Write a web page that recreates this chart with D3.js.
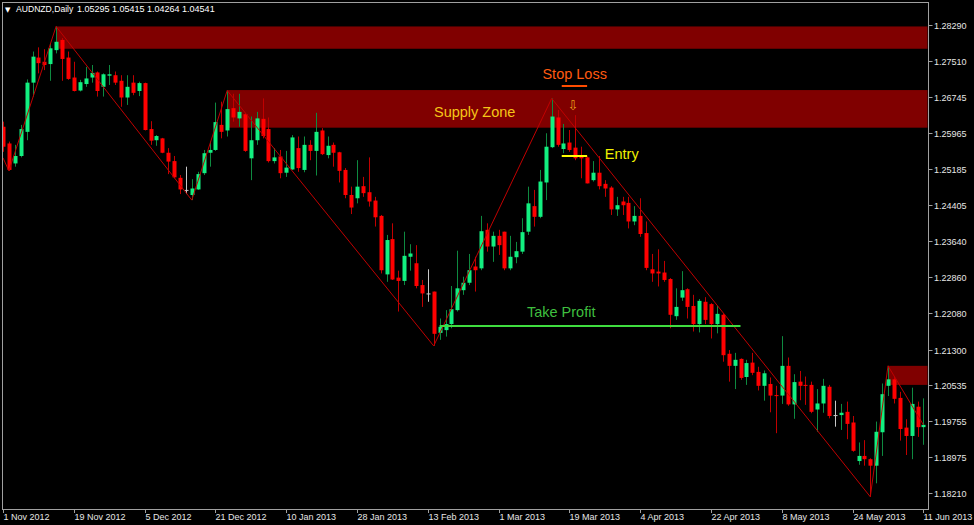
<!DOCTYPE html>
<html><head><meta charset="utf-8">
<script src="https://cdn.jsdelivr.net/npm/d3@7/dist/d3.min.js"></script>
<style>html,body{margin:0;padding:0;background:#000;}svg{display:block;}</style>
</head><body><svg id="c" width="974" height="525"></svg>
<script>
const symbolTitle = "AUDNZD,Daily";
const headerValues = "1.05295 1.05415 1.04264 1.04541";
const open = [1.2612,1.2576,1.2533,1.2549,1.2601,1.2707,1.2761,1.2752,1.2747,1.2777,1.2799,1.2761,1.2718,1.2690,1.2704,1.2718,1.2729,1.2698,1.2722,1.2723,1.2711,1.2675,1.2707,1.2689,1.2706,1.2607,1.2583,1.2587,1.2556,1.2538,1.2502,1.2476,1.2465,1.2477,1.2512,1.2556,1.2562,1.2616,1.2604,1.2652,1.2630,1.2639,1.2544,1.2583,1.2629,1.2607,1.2538,1.2548,1.2513,1.2520,1.2566,1.2519,1.2573,1.2560,1.2604,1.2551,1.2573,1.2557,1.2519,1.2465,1.2458,1.2484,1.2471,1.2453,1.2420,1.2294,1.2370,1.2287,1.2280,1.2332,1.2318,1.2271,1.2253,1.2257,1.2168,1.2174,1.2187,1.2217,1.2260,1.2276,1.2311,1.2307,1.2390,1.2354,1.2377,1.2386,1.2307,1.2331,1.2343,1.2386,1.2441,1.2418,1.2492,1.2568,1.2632,1.2564,1.2578,1.2567,1.2548,1.2546,1.2497,1.2513,1.2489,1.2481,1.2434,1.2451,1.2448,1.2408,1.2420,1.2383,1.2305,1.2300,1.2298,1.2284,1.2204,1.2244,1.2262,1.2226,1.2187,1.2235,1.2230,1.2187,1.2207,1.2123,1.2097,1.2112,1.2073,1.2104,1.2084,1.2054,1.2058,1.2034,1.2033,1.2097,1.2014,1.2063,1.2056,1.2056,1.2003,1.2016,1.2052,1.1991,1.1991,1.1998,1.1975,1.1892,1.1903,1.1896,1.1882,1.1954,1.2054,1.2068,1.2028,1.1964,1.1946,1.2009,1.1965];
const high = [1.2623,1.2580,1.2573,1.2616,1.2714,1.2774,1.2783,1.2779,1.2792,1.2828,1.2803,1.2774,1.2752,1.2713,1.2741,1.2745,1.2731,1.2727,1.2745,1.2731,1.2723,1.2723,1.2723,1.2709,1.2707,1.2624,1.2594,1.2588,1.2566,1.2549,1.2508,1.2526,1.2499,1.2515,1.2562,1.2580,1.2664,1.2666,1.2690,1.2683,1.2683,1.2641,1.2634,1.2644,1.2673,1.2632,1.2566,1.2562,1.2560,1.2594,1.2591,1.2591,1.2583,1.2642,1.2609,1.2591,1.2578,1.2558,1.2523,1.2483,1.2540,1.2504,1.2546,1.2461,1.2422,1.2379,1.2404,1.2302,1.2386,1.2359,1.2357,1.2282,1.2305,1.2257,1.2199,1.2217,1.2269,1.2345,1.2289,1.2338,1.2332,1.2420,1.2404,1.2386,1.2390,1.2386,1.2377,1.2364,1.2415,1.2483,1.2476,1.2519,1.2598,1.2673,1.2648,1.2618,1.2605,1.2637,1.2569,1.2548,1.2538,1.2549,1.2497,1.2484,1.2461,1.2461,1.2461,1.2441,1.2458,1.2408,1.2338,1.2348,1.2323,1.2286,1.2264,1.2301,1.2264,1.2250,1.2241,1.2245,1.2232,1.2226,1.2210,1.2131,1.2125,1.2113,1.2110,1.2125,1.2095,1.2087,1.2072,1.2054,1.2161,1.2115,1.2079,1.2086,1.2074,1.2063,1.2047,1.2069,1.2056,1.2022,1.2015,1.2020,1.1989,1.1932,1.1937,1.1898,1.1977,1.2059,1.2097,1.2074,1.2041,1.1982,1.2050,1.2020,1.2027];
const low = [1.2558,1.2517,1.2526,1.2546,1.2583,1.2677,1.2727,1.2734,1.2711,1.2770,1.2711,1.2713,1.2688,1.2688,1.2698,1.2707,1.2677,1.2677,1.2702,1.2702,1.2655,1.2659,1.2680,1.2678,1.2604,1.2573,1.2571,1.2555,1.2510,1.2501,1.2467,1.2467,1.2454,1.2476,1.2508,1.2526,1.2560,1.2587,1.2591,1.2623,1.2612,1.2558,1.2497,1.2573,1.2587,1.2535,1.2533,1.2501,1.2504,1.2519,1.2515,1.2514,1.2540,1.2507,1.2551,1.2544,1.2526,1.2492,1.2458,1.2424,1.2447,1.2461,1.2440,1.2397,1.2296,1.2278,1.2282,1.2214,1.2271,1.2302,1.2264,1.2224,1.2235,1.2140,1.2153,1.2160,1.2178,1.2214,1.2250,1.2271,1.2257,1.2303,1.2343,1.2321,1.2336,1.2303,1.2303,1.2318,1.2338,1.2379,1.2397,1.2415,1.2454,1.2566,1.2569,1.2555,1.2558,1.2540,1.2501,1.2490,1.2494,1.2477,1.2461,1.2422,1.2420,1.2422,1.2393,1.2400,1.2375,1.2303,1.2278,1.2268,1.2278,1.2178,1.2196,1.2237,1.2199,1.2171,1.2169,1.2187,1.2156,1.2167,1.2106,1.2063,1.2047,1.2067,1.2056,1.2077,1.2044,1.2022,1.1997,1.1952,1.2015,1.2011,1.1983,1.2023,1.2013,1.1995,1.1955,1.1996,1.1984,1.1966,1.1959,1.1939,1.1912,1.1884,1.1882,1.1815,1.1844,1.1903,1.2032,1.2016,1.1936,1.1905,1.1896,1.1944,1.1927];
const close = [1.2569,1.2519,1.2549,1.2607,1.2707,1.2763,1.2749,1.2745,1.2781,1.2795,1.2758,1.2715,1.2689,1.2708,1.2716,1.2728,1.2689,1.2725,1.2725,1.2707,1.2675,1.2698,1.2685,1.2706,1.2605,1.2582,1.2592,1.2556,1.2537,1.2503,1.2477,1.2476,1.2479,1.2510,1.2555,1.2562,1.2622,1.2601,1.2650,1.2632,1.2644,1.2560,1.2583,1.2630,1.2592,1.2538,1.2546,1.2512,1.2524,1.2589,1.2523,1.2573,1.2560,1.2601,1.2553,1.2571,1.2556,1.2517,1.2465,1.2438,1.2483,1.2469,1.2451,1.2417,1.2303,1.2368,1.2283,1.2280,1.2334,1.2339,1.2269,1.2253,1.2253,1.2166,1.2181,1.2187,1.2219,1.2264,1.2276,1.2303,1.2303,1.2387,1.2354,1.2377,1.2357,1.2307,1.2332,1.2344,1.2385,1.2447,1.2418,1.2494,1.2569,1.2634,1.2573,1.2576,1.2562,1.2544,1.2544,1.2490,1.2513,1.2484,1.2479,1.2434,1.2443,1.2443,1.2408,1.2420,1.2381,1.2308,1.2296,1.2296,1.2282,1.2207,1.2224,1.2260,1.2224,1.2187,1.2237,1.2196,1.2187,1.2209,1.2120,1.2097,1.2110,1.2071,1.2103,1.2082,1.2054,1.2081,1.2033,1.2032,1.2097,1.2014,1.2062,1.2054,1.2054,1.1998,1.2016,1.2054,1.1989,1.1991,1.1996,1.1972,1.1914,1.1903,1.1896,1.1882,1.1955,1.2036,1.2068,1.2026,1.1961,1.1946,1.2015,1.1965,1.1970];
const dateLabels = ["1 Nov 2012","19 Nov 2012","5 Dec 2012","21 Dec 2012","10 Jan 2013","28 Jan 2013","13 Feb 2013","1 Mar 2013","19 Mar 2013","4 Apr 2013","22 Apr 2013","8 May 2013","24 May 2013","11 Jun 2013"];
const barsPerLabel = 12;
const priceTicks = [1.28290,1.27510,1.26745,1.25965,1.25185,1.24405,1.23640,1.22860,1.22080,1.21300,1.20535,1.19755,1.18975,1.18210];
// zigzag pivots: bar index and price
const zigIdx = [0,1,9,32,38,73,93,147,150,156];
const zigPrice = [1.2545,1.2517,1.2828,1.2454,1.2690,1.2140,1.2673,1.1815,1.2097,1.1970];
// supply zones: start bar, top price, bottom price (extend to right edge)
const zoneStart = [9,38,150];
const zoneTop = [1.2828,1.2691,1.2097];
const zoneBottom = [1.2780,1.2610,1.2056];
// trade levels
const levelNames = ["Stop Loss","Entry","Take Profit"];
const levelPrice = [1.2700,1.2549,1.2183];
const levelFrom = [94.7,94.7,74];
const levelTo = [99,99,125];

const W=974,H=525;
const frame={left:2,top:2,right:928,bottom:509};
const svg=d3.select("#c");
svg.append("rect").attr("width",W).attr("height",H).attr("fill","#000");
const x=d3.scaleLinear().domain([0,open.length-1]).range([3,923.4]);
const y=d3.scaleLinear().domain([1.18210,1.28290]).range([494,26]);
const FONT="'Liberation Sans', Arial, sans-serif";

svg.append("defs").append("clipPath").attr("id","pc").append("rect")
  .attr("x",frame.left+0.5).attr("y",frame.top+0.5).attr("width",frame.right-frame.left-1).attr("height",frame.bottom-frame.top-1);
const plot=svg.append("g").attr("clip-path","url(#pc)");

// zones
plot.selectAll("rect.zone").data(zoneStart).join("rect").attr("class","zone")
  .attr("x",d=>x(d)).attr("y",(d,i)=>y(zoneTop[i]))
  .attr("width",d=>frame.right-x(d)).attr("height",(d,i)=>y(zoneBottom[i])-y(zoneTop[i]))
  .attr("fill","#800000");

// candles
const idx=d3.range(open.length);
const col=i=>close[i]>open[i]?"up":(close[i]<open[i]?"down":"flat");
const wickCol={up:"#0e8a40",down:"#c00000",flat:"#c8c8c8"};
const bodyCol={up:"#12ef80",down:"#ff0000",flat:"#c8c8c8"};
plot.selectAll("line.wick").data(idx).join("line").attr("class","wick")
  .attr("x1",i=>Math.round(x(i))+0.5).attr("x2",i=>Math.round(x(i))+0.5)
  .attr("y1",i=>y(high[i])).attr("y2",i=>y(low[i]))
  .attr("stroke",i=>wickCol[col(i)]).attr("stroke-width",1);
plot.selectAll("rect.body").data(idx).join("rect").attr("class","body")
  .attr("x",i=>Math.round(x(i))-1.5).attr("width",4)
  .attr("y",i=>Math.min(y(open[i]),y(close[i])))
  .attr("height",i=>Math.max(1,Math.abs(y(open[i])-y(close[i]))))
  .attr("fill",i=>bodyCol[col(i)]);

// zigzag
plot.append("path").datum(zigIdx)
  .attr("d",d3.line().x(d=>x(d)).y((d,i)=>y(zigPrice[i])))
  .attr("fill","none").attr("stroke","#c00000").attr("stroke-width",1);

// trade level lines
const levelColor=["#ff4c00","#ffff00","#3fdc3f"];
plot.selectAll("line.level").data(levelPrice).join("line").attr("class","level")
  .attr("x1",(d,i)=>x(levelFrom[i])).attr("x2",(d,i)=>x(levelTo[i]))
  .attr("y1",d=>y(d)).attr("y2",d=>y(d))
  .attr("stroke",(d,i)=>levelColor[i]).attr("stroke-width",2);

// annotation texts
const notes=[
  {t:"Stop Loss",i:96.9,p:1.2715,c:"#ff5a10",a:"middle"},
  {t:"Supply Zone",i:73.05,p:1.2633,c:"#f5c518",a:"start"},
  {t:"Entry",i:102.0,p:1.25415,c:"#f0f000",a:"start"},
  {t:"Take Profit",i:88.8,p:1.22012,c:"#3fbf3f",a:"start"}
];
plot.selectAll("text.note").data(notes).join("text").attr("class","note")
  .attr("x",d=>x(d.i)).attr("y",d=>y(d.p)).attr("text-anchor",d=>d.a)
  .attr("fill",d=>d.c).attr("font-family",FONT).attr("font-size","14.5px").text(d=>d.t);
plot.append("text").attr("x",x(96.6)).attr("y",y(1.2659)+5).attr("text-anchor","middle")
  .attr("fill","#e8a317").attr("font-family","'DejaVu Sans', sans-serif").attr("font-size","13px").text("⇩");

// frame
svg.append("rect").attr("x",frame.left+0.5).attr("y",frame.top+0.5)
  .attr("width",frame.right-frame.left).attr("height",frame.bottom-frame.top)
  .attr("fill","none").attr("stroke","#a0a0a0").attr("stroke-width",1);

// header
svg.append("text").attr("x",5).attr("y",12).attr("fill","#ffffff").attr("font-family","'DejaVu Sans', sans-serif").attr("font-size","7px").text("▼");
svg.append("text").attr("x",16).attr("y",12).attr("fill","#ffffff").attr("font-family",FONT).attr("font-size","8.6px").text(symbolTitle);
svg.append("text").attr("x",77).attr("y",12).attr("fill","#ffffff").attr("font-family",FONT).attr("font-size","9px").text(headerValues);

// right price axis
const ya=svg.append("g");
ya.selectAll("line").data(priceTicks).join("line")
  .attr("x1",frame.right+0.5).attr("x2",frame.right+4.5)
  .attr("y1",d=>Math.round(y(d))-0.5).attr("y2",d=>Math.round(y(d))-0.5)
  .attr("stroke","#a0a0a0");
ya.selectAll("text").data(priceTicks).join("text")
  .attr("x",frame.right+6).attr("y",d=>y(d)+3)
  .attr("fill","#e6e6e6").attr("font-family",FONT).attr("font-size","9px").text(d=>d.toFixed(5));

// bottom date axis
const xa=svg.append("g");
const tickIdx=dateLabels.map((d,i)=>i*barsPerLabel);
xa.selectAll("line").data(tickIdx).join("line")
  .attr("x1",d=>Math.round(x(d))+0.5).attr("x2",d=>Math.round(x(d))+0.5)
  .attr("y1",frame.bottom).attr("y2",frame.bottom+4).attr("stroke","#a0a0a0");
xa.selectAll("text").data(dateLabels).join("text")
  .attr("x",(d,i)=>Math.round(x(tickIdx[i]))+0.5).attr("y",520)
  .attr("fill","#e6e6e6").attr("font-family",FONT).attr("font-size","9px").text(d=>d);
</script></body></html>
